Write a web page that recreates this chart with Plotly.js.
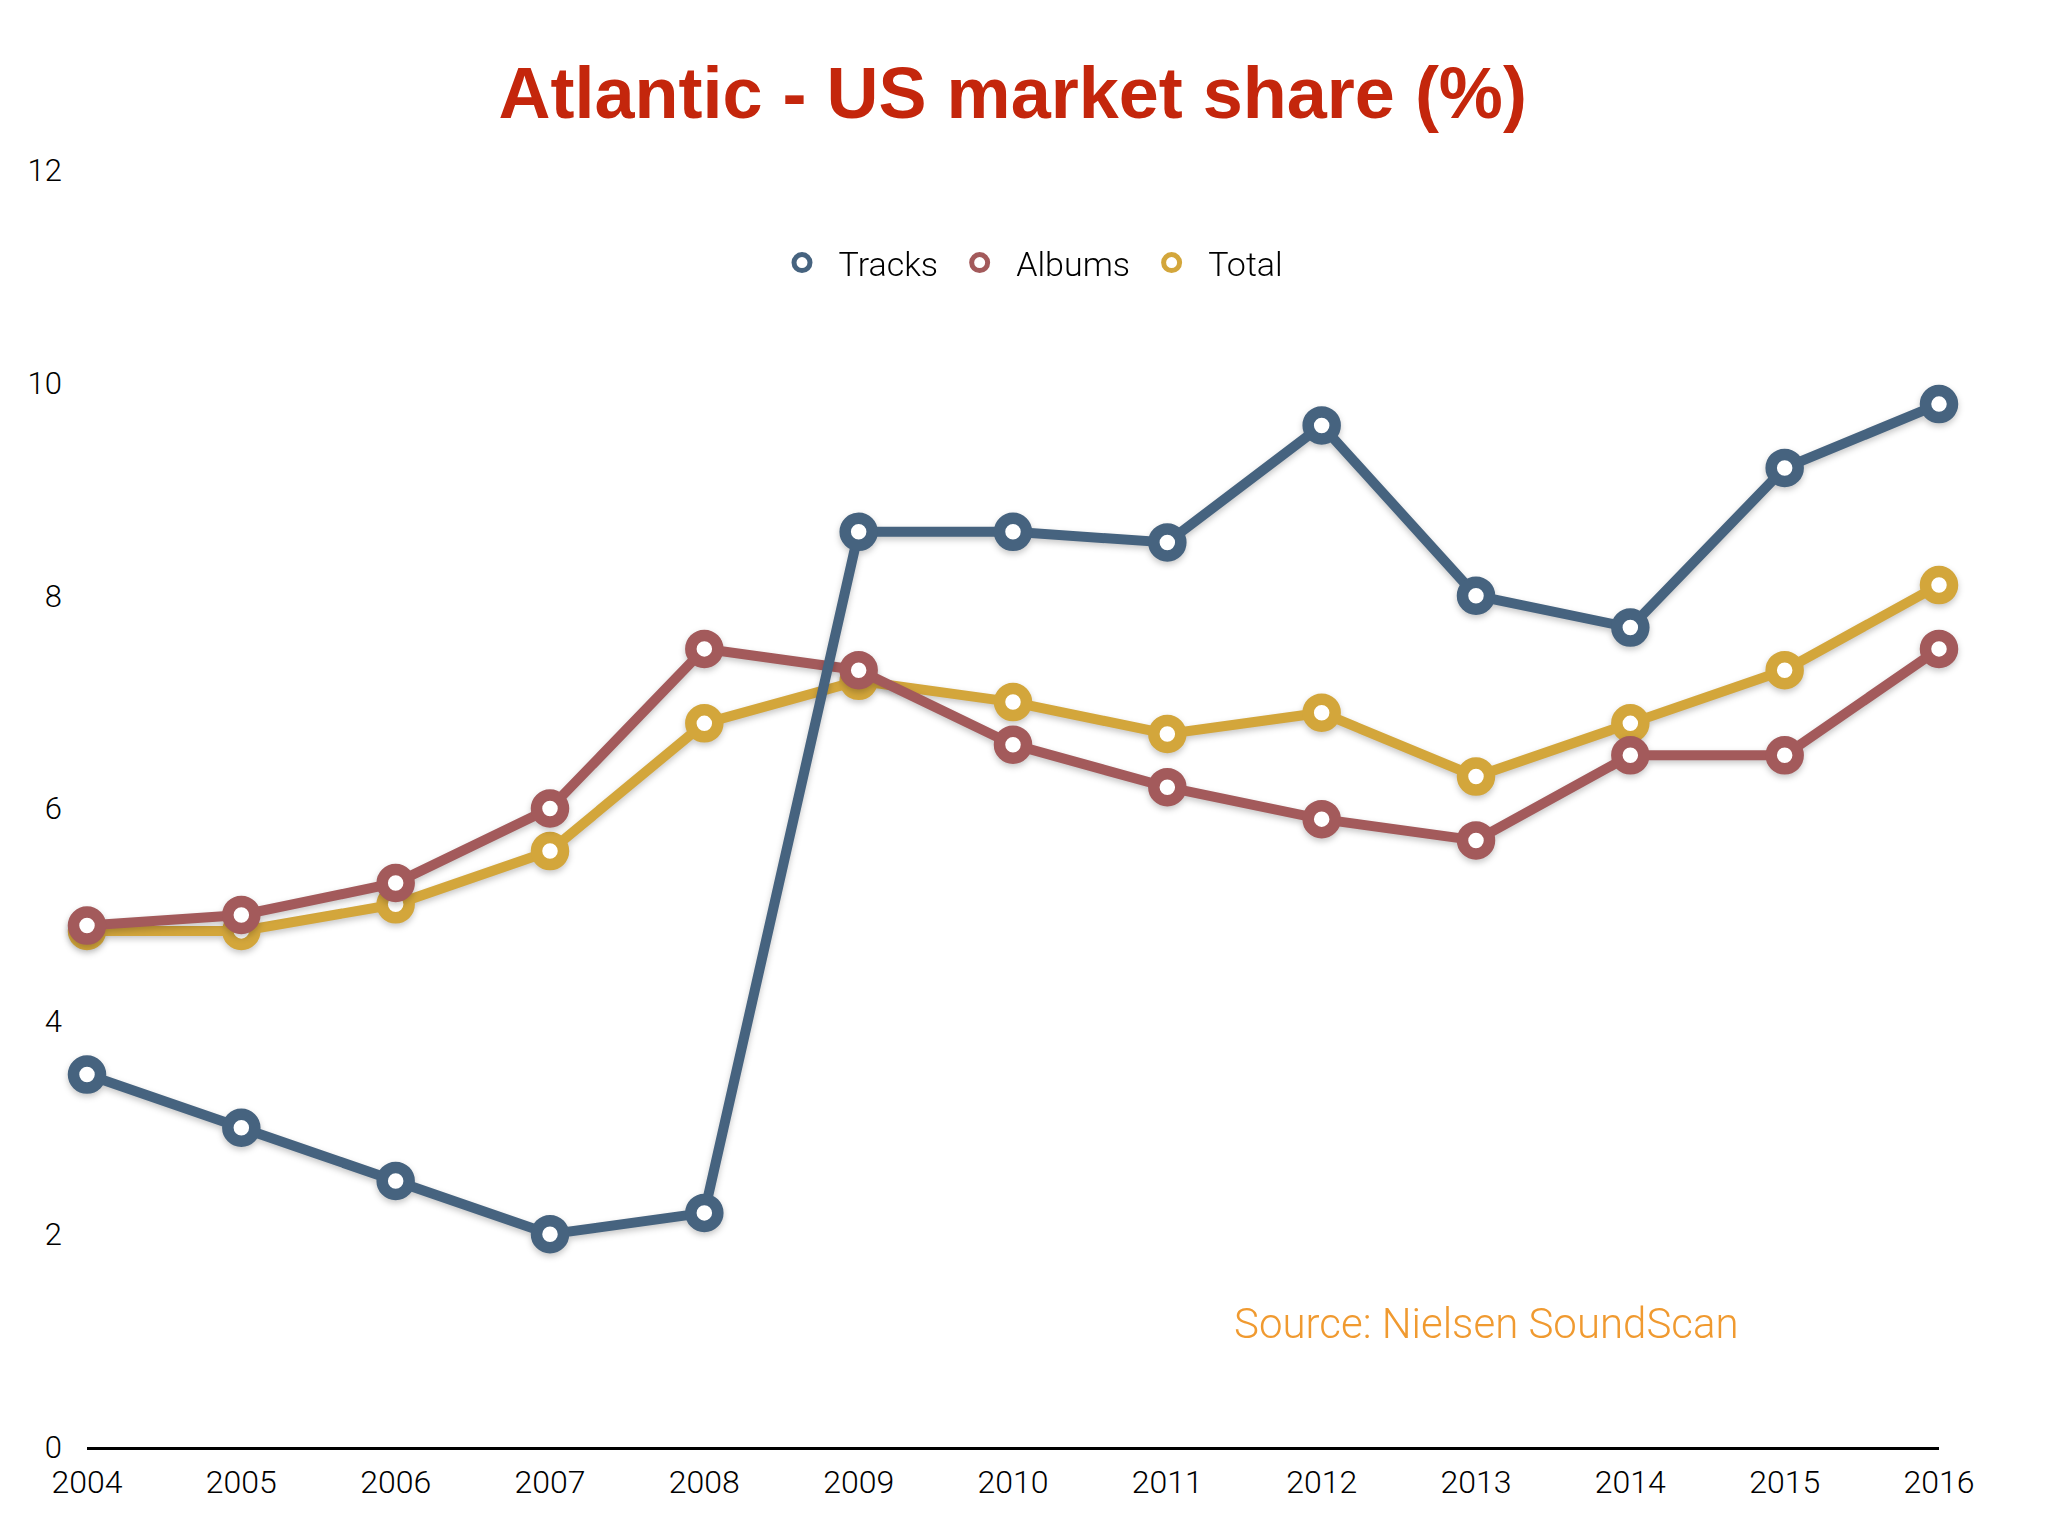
<!DOCTYPE html>
<html>
<head>
<meta charset="utf-8">
<script src="https://cdn.plot.ly/plotly-3.0.1.min.js"></script>
<style>
html, body { margin: 0; padding: 0; background: #ffffff; }
#chart { width: 2048px; height: 1536px; }
#chart .scatterlayer .trace { filter: drop-shadow(0px 3px 3px rgba(0,0,0,0.22)); }
</style>
</head>
<body>
<div id="chart"></div>
<script>
const years = [2004, 2005, 2006, 2007, 2008, 2009, 2010, 2011, 2012, 2013, 2014, 2015, 2016];
const tracks = [3.5, 3.0, 2.5, 2.0, 2.2, 8.6, 8.6, 8.5, 9.6, 8.0, 7.7, 9.2, 9.8];
const albums = [4.9, 5.0, 5.3, 6.0, 7.5, 7.3, 6.6, 6.2, 5.9, 5.7, 6.5, 6.5, 7.5];
const total  = [4.85, 4.85, 5.1, 5.6, 6.8, 7.2, 7.0, 6.7, 6.9, 6.3, 6.8, 7.3, 8.1];
const seriesNames = ["Tracks", "Albums", "Total"];
const yTicks = [0, 2, 4, 6, 8, 10, 12];
const titleText = "Atlantic - US market share (%)";
const sourceText = "Source: Nielsen SoundScan";

const colors = { Tracks: "#46637F", Albums: "#A35A5B", Total: "#D3A63B" };
const lightFont = "Roboto, 'Liberation Sans', Arial, sans-serif";
const NB = "\u00A0";

function lineTrace(name, ys) {
  return {
    x: years, y: ys, name: name, type: "scatter", mode: "lines+markers",
    showlegend: false, cliponaxis: false, hoverinfo: "skip",
    line: { color: colors[name], width: 10 },
    marker: { size: 27, color: "#ffffff", line: { color: colors[name], width: 11.5 } }
  };
}
function legendTrace(name, i) {
  const label = NB + NB + name + (i < seriesNames.length - 1 ? NB + NB : "");
  return {
    x: [null], y: [null], name: label, type: "scatter", mode: "markers",
    showlegend: true, hoverinfo: "skip",
    marker: { size: 16, color: "#ffffff", line: { color: colors[name], width: 5 } }
  };
}

const data = [
  lineTrace("Total", total),
  lineTrace("Albums", albums),
  lineTrace("Tracks", tracks),
  ...seriesNames.map(legendTrace)
];

const layout = {
  width: 2048, height: 1536,
  paper_bgcolor: "#ffffff", plot_bgcolor: "#ffffff",
  margin: { l: 87, r: 109, t: 170, b: 89 },
  font: { family: lightFont, weight: 300, color: "#000000", size: 30 },
  title: {
    text: titleText,
    font: { family: "'Liberation Sans', Arial, sans-serif", size: 72, weight: 700, color: "#C4260C" },
    xref: "container", x: 0.4945, xanchor: "center",
    yref: "container", y: 1 - 93 / 1536, yanchor: "middle"
  },
  xaxis: {
    range: [2004, 2016], tickmode: "array", tickvals: years, ticktext: years.map(String),
    showgrid: false, zeroline: false, showline: true, linecolor: "#000000", linewidth: 3,
    ticks: "", ticklabelstandoff: 5,
    tickfont: { family: lightFont, weight: 300, size: 32, color: "#000000" }
  },
  yaxis: {
    range: [0, 12], tickmode: "array", tickvals: yTicks, ticktext: yTicks.map(String),
    showgrid: false, zeroline: false, showline: false, ticks: "",
    ticklabelstandoff: 24,
    tickfont: { family: lightFont, weight: 300, size: 31, color: "#000000" }
  },
  legend: {
    orientation: "h", x: (1035 - 87) / 1852, xanchor: "center", y: (1447 - 263) / 1277, yanchor: "middle",
    font: { family: lightFont, weight: 300, size: 34, color: "#000000" },
    bgcolor: "rgba(0,0,0,0)", itemwidth: 30, tracegroupgap: 0
  },
  annotations: [{
    text: sourceText, xref: "paper", yref: "paper",
    x: (1486 - 87) / 1852, y: (1447 - 1323) / 1277, xanchor: "center", yanchor: "middle",
    showarrow: false, font: { family: lightFont, weight: 300, size: 42, color: "#F09A30" }
  }],
  showlegend: true
};

Plotly.newPlot("chart", data, layout, { staticPlot: true, displayModeBar: false });
</script>
</body>
</html>
